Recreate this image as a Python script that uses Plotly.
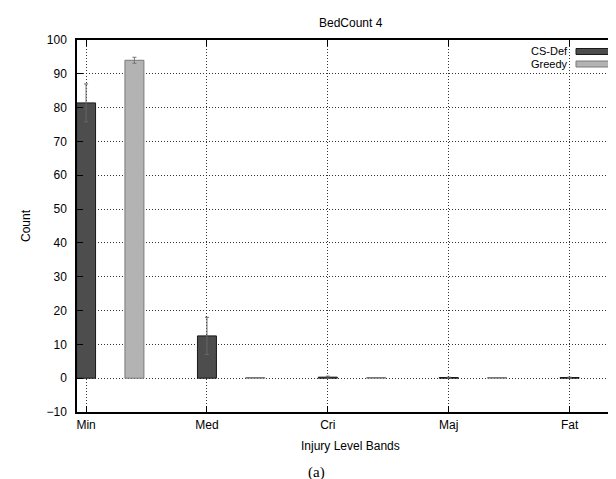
import plotly.graph_objects as go

categories = ["Min", "Med", "Cri", "Maj", "Fat"]
cs_def = [81.4, 12.5, 0.3, 0.2, 0.2]
cs_def_err = [5.6, 5.5, 0.3, 0.1, 0.1]
greedy = [94.0, 0.2, 0.2, 0.2, 0.2]
greedy_err = [0.9, 0.0, 0.0, 0.0, 0.0]
y_ticks = [-10, 0, 10, 20, 30, 40, 50, 60, 70, 80, 90, 100]

FONT = "Liberation Sans, Arial, sans-serif"
idx = list(range(len(categories)))
bar_w = 0.157
offset = 0.4

fig = go.Figure()
fig.add_trace(go.Bar(
    x=idx, y=cs_def, width=bar_w, name="CS-Def",
    marker=dict(color="#4d4d4d", line=dict(color="#1a1a1a", width=1)),
    error_y=dict(type="data", array=cs_def_err, color="#666666", thickness=1, width=2),
    showlegend=False,
))
fig.add_trace(go.Bar(
    x=[i + offset for i in idx], y=greedy, width=bar_w, name="Greedy",
    marker=dict(color="#b3b3b3", line=dict(color="#7a7a7a", width=1)),
    error_y=dict(type="data", array=greedy_err, color="#777777", thickness=1, width=2),
    showlegend=False,
))

fig.update_layout(
    width=616, height=479,
    margin=dict(l=69, r=0, t=32, b=75),
    paper_bgcolor="white", plot_bgcolor="white",
    font=dict(family=FONT, size=12, color="black"),
    barmode="overlay",
    showlegend=False,
)
fig.update_xaxes(
    range=[-0.075, 4.45],
    tickmode="array", tickvals=idx, ticktext=categories,
    ticks="inside", ticklen=6, tickcolor="black",
    showline=True, linecolor="black", linewidth=1.5, mirror="ticks",
    showgrid=True, gridcolor="#333333", griddash="1px,2px", gridwidth=1,
    zeroline=False, ticklabelstandoff=1,
    tickfont=dict(family=FONT, size=12),
)
fig.update_yaxes(
    range=[-10, 100],
    tickmode="array", tickvals=y_ticks,
    ticks="inside", ticklen=6, tickcolor="black",
    showline=True, linecolor="black", linewidth=1.5,
    showgrid=True, gridcolor="#333333", griddash="1px,2px", gridwidth=1,
    zeroline=False, ticklabelstandoff=6,
    tickfont=dict(family=FONT, size=12),
)

# Titles and caption
fig.add_annotation(text="BedCount 4", xref="paper", yref="paper", x=0.5, y=1,
                   yanchor="middle", yshift=17, showarrow=False,
                   font=dict(family=FONT, size=12))
fig.add_annotation(text="Injury Level Bands", xref="paper", yref="paper", x=0.5, y=0,
                   yanchor="middle", yshift=-33.5, showarrow=False,
                   font=dict(family=FONT, size=12))
fig.add_annotation(text="Count", xref="paper", yref="paper", x=0, xanchor="center",
                   xshift=-51, y=0.5, yanchor="middle",
                   textangle=-90, showarrow=False, font=dict(family=FONT, size=12))
fig.add_annotation(text="(a)", xref="paper", yref="paper", x=(308 - 69) / 547, y=0,
                   yanchor="middle", yshift=-60, showarrow=False, borderpad=0,
                   font=dict(family="Liberation Serif, Times New Roman, serif", size=15))

# Legend (text right-aligned with sample box to the right, like gnuplot)
legend_items = [("CS-Def", "#4d4d4d", "#1a1a1a"), ("Greedy", "#b3b3b3", "#7a7a7a")]
for k, (label, fill, edge) in enumerate(legend_items):
    yc = 1 - (11.5 + 12.5 * k) / 372
    fig.add_annotation(text=label, xref="paper", yref="paper", x=(561 - 69) / 547, y=yc,
                       xanchor="right", yanchor="middle", showarrow=False, borderpad=0,
                       font=dict(family=FONT, size=11))
    fig.add_shape(type="rect", xref="paper", yref="paper",
                  x0=(568 - 69) / 547, x1=(604 - 69) / 547,
                  y0=yc - 3 / 372, y1=yc + 3 / 372,
                  fillcolor=fill, line=dict(color=edge, width=1))

fig.write_html("out.html")
